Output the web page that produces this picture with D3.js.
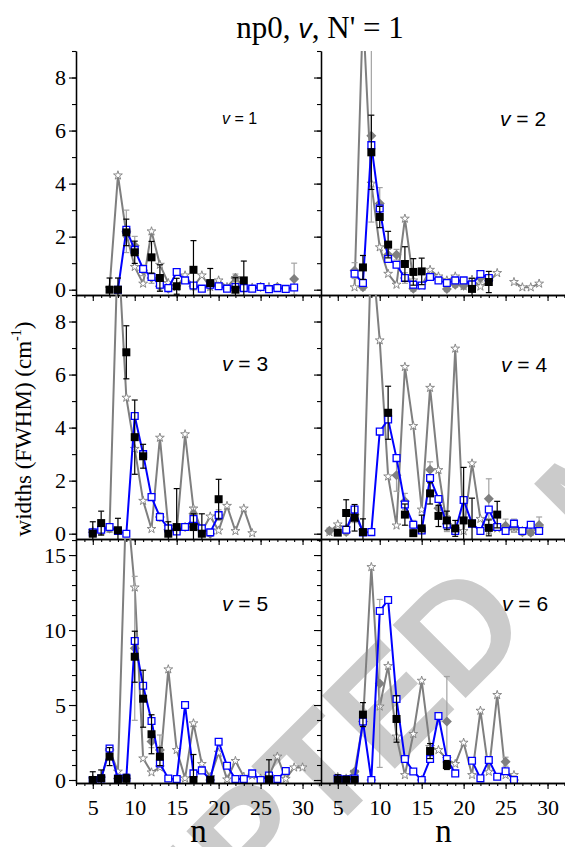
<!DOCTYPE html>
<html>
<head>
<meta charset="utf-8">
<script src="https://cdn.jsdelivr.net/npm/d3@7"></script>
<style>
  body { margin: 0; background: #fff; }
  svg { display: block; }
</style>
</head>
<body>
<svg id="chart" width="565" height="847"></svg>
<script>
// ---- data (one inner array per panel, v = 1..6) ----
const panelLabels = ["1", "2", "3", "4", "5", "6"];
const xTicksMajor = [5, 10, 15, 20, 25, 30];
const yTicksSmall = [0, 2, 4, 6, 8];
const yTicksLarge = [0, 5, 10, 15];

// black filled squares with error bars
const blackN = [
  [7, 8, 9, 10, 12, 13, 15, 17, 19, 22, 23],
  [8, 9, 10, 11, 13, 14, 15, 21, 23],
  [5, 6, 8, 9, 10, 11, 14, 15, 17, 18, 20],
  [5, 6, 7, 8, 11, 13, 14, 15, 16, 17, 18, 19, 20, 21, 23, 24],
  [5, 6, 7, 8, 9, 10, 11, 12, 13, 17, 19, 26],
  [5, 6, 7, 8, 12, 16, 18]
];
const blackW = [
  [0, 0, 2.16, 1.41, 1.22, 0.44, 0.13, 0.75, 0.25, 0, 0.35],
  [0.84, 5.18, 2.74, 1.7, 0.97, 0.67, 0.69, 0.03, 0.29],
  [0, 0.4, 0.13, 6.84, 3.64, 2.92, 0, 0.25, 0.25, 0, 1.3],
  [0.04, 0.78, 0.6, 0.06, 4.56, 0.72, 0.02, 0.2, 1.52, 0.67, 0.5, 0.2, 0.5, 0.39, 0.22, 0.72],
  [0, 0.12, 1.56, 0.07, 0.08, 8.22, 5.42, 3.05, 1.56, 0, 0.02, 0.05],
  [0, 0, 0, 4.36, 4.07, 1.93, 1.0]
];
const blackErr = [
  [0.44, 0.44, 0.5, 0.42, 0.6, 0.5, 0.3, 1.1, 0.55, 0.45, 0.73],
  [0.45, 1.4, 0.4, 0.5, 0.65, 0.5, 0.5, 0.4, 0.4],
  [0.45, 0.45, 0.45, 1.0, 1.4, 0.45, 0.45, 1.45, 0.5, 0.75, 0.75],
  [0.1, 0.5, 0.5, 0.5, 1.0, 0.4, 0.1, 0.5, 0.4, 0.4, 0.35, 0.3, 2.0, 0.95, 0.3, 0.5],
  [0.55, 0.55, 0.6, 0.2, 0.3, 1.7, 1.9, 1.3, 0.6, 1.7, 0.2, 1.3],
  [0.35, 0.25, 0.1, 0.8, 1.55, 0.5, 0.3]
];

// blue open squares (line), first n of each panel and consecutive values
const blueStart = [8, 7, 5, 6, 5, 5];
const blueW = [
  [0, 2.26, 1.5, 0.78, 0.48, 0.19, 0.06, 0.67, 0.35, 0.16, 0.04, 0.19, 0.13, 0.04, 0.1, 0.06, 0.04, 0.1, 0.02, 0.06, 0.03, 0.08],
  [0.6, 0.25, 5.45, 3.06, 1.16, 0.94, 0.44, 0.19, 0.16, 0.48, 0.35, 0.25, 0.35, 0.35, 0.2, 0.59, 0.44],
  [0.05, 0.15, 0.25, 0.1, 0, 4.44, 3.0, 1.38, 0.63, 0.2, 0.08, 0.25, 0.55, 0.2, 0.05, 0.7],
  [0.15, 0.91, 0.05, 0.06, 3.85, 4.31, 2.85, 1.1, 0.34, 0.12, 2.1, 1.31, 0.35, 0.1, 1.27, 0.38, 0.1, 0.91, 0.25, 0.1, 0.38, 0.1, 0.34, 0.1],
  [0, 0.1, 2.1, 0.1, 0.15, 9.27, 6.29, 3.93, 1.1, 0.1, 0.07, 5.0, 0.44, 0.64, 0, 2.55, 0.95, 0.07, 0.07, 0.44, 0, 0.3, 0.07, 0.6],
  [0.1, 0.05, 0.1, 3.9, 0, 11.27, 12.0, 5.4, 1.4, 0.57, 0, 1.4, 4.27, 1.4, 0.44, null, 1.28, 0.11, 1.33, 0.22, 0.58, 0]
];

// grey open stars (line)
const starStart = [7, 7, 5, 4, 5, 5];
const starW = [
  [0.05, 4.31, 2.1, 0.86, 0.23, 2.2, 0.94, 0.25, 0.1, 0.54, 0.12, 0.54, 0.1, 0.35, 0.1, 0.44, 0.1, 0.08, 0.1, 0.1, 0.1],
  [0.09, 10.5, 4.0, 1.6, 0.6, 0.19, 2.68, 0.35, 0.15, 0.75, 0.5, 0.35, 0.5, 0.13, 0.38, 0.12, 0.3, 0.63, null, 0.29, 0.09, 0.09, 0.23],
  [0.1, 0.1, 0.2, 11, 5.13, 3.2, 1.24, 0.18, 3.62, 0.25, 0.1, 3.75, 0.95, 0.1, 0.65, 0.12, 1.05, 0.1, 0.95, 0.02],
  [0.06, 0.35, 0.2, 0.7, 0.1, 11, 7.29, 2.16, 0.31, 6.29, 4.06, 0.91, 5.5, 2.4, 0.31, 6.98, 0.1, 2.65, 0.56, 0.1, 0.2, 0.1, 0.2, 0.1, 0.1, 0.2],
  [0.05, 0.1, 2.0, 0.56, 19, 12.84, 1.44, 0.51, 0.84, 7.38, 2.0, 0.11, 3.78, 1.07, 0.2, 1.82, 0.04, 1.27, 0.22, 0.3, 0.1, 0.25, 1.56, 0.08, 0.84, 0.84],
  [0.2, 0.1, 0.55, 3.8, 14.2, 4.9, 7.6, 2.9, 0.33, 3.07, 6.62, 2.2, 2.0, 1.4, 1.07, 2.49, 0.33, 4.62, 0.55, 5.67, 0.33, 0.33]
];

// grey filled diamonds with error bars
const diaN = [
  [9, 10, 11, 12, 13, 14, 17, 19, 22, 23, 25, 27, 29],
  [7, 8, 9, 10, 11, 12, 13, 14, 18, 19, 20, 22],
  [5, 6, 7, 13, 14, 16, 17, 19, 20],
  [4, 6, 7, 12, 13, 14, 16, 17, 18, 23, 25, 26, 27, 28, 29],
  [7, 8, 9, 10, 12, 13, 15, 19],
  [7, 8, 9, 10, 15, 18, 25, 26]
];
const diaW = [
  [2.2, 1.66, 0.73, 0.44, 0.13, 0.04, 0.12, 0.13, 0.44, 0.1, 0.1, 0.1, 0.4],
  [0.72, 0.09, 5.8, 3.25, 1.32, 1.32, 0.44, 0.04, 0.03, 0.19, 0.15, 0.44],
  [0.05, 0.1, 0.2, 0.63, 0.15, 0.25, 0.75, 0, 0.7],
  [0.11, 0.06, 0.72, 2.2, 1.22, 0.3, 2.41, 0.96, 0.38, 1.32, 0.3, 0.3, 0.05, 0.04, 0.33],
  [2.0, 0.1, 0.1, 8.78, 2.56, 2.0, 0, 0],
  [0.55, 3.9, 0, 6.44, 0, 3.9, 1.22, 0]
];
const diaErr = [
  [0.8, 0.35, 0.2, 0.2, 0.15, 0.1, 0.1, 0.1, 0.15, 0.1, 0.1, 0.1, 0.6],
  [0.3, 0.1, 3.25, 0.6, 0.2, 0.2, 0.2, 0.1, 0.1, 0.1, 0.1, 0.15],
  [0.1, 0.15, 0.15, 0.15, 0.1, 0.1, 0.25, 0.1, 0.2],
  [0.1, 0.1, 0.3, 0.6, 0.3, 0.2, 0.3, 0.3, 0.3, 0.75, 0.25, 0.25, 0.1, 0.1, 0.3],
  [0.3, 0.1, 0.1, 4.8, 0.4, 1.0, 0.1, 0.1],
  [0.1, 0.2, 0.1, 5.6, 0.1, 3.0, 0.3, 0.1]
];

// ---- layout ----
const serif = "'Liberation Serif', 'Times New Roman', serif";
const sans = "'Liberation Sans', Arial, sans-serif";
const panelW = 245, panelH = 244, plotLeft = 76, plotTop = 51;
const xDomain = [3, 32.2];
const labelPos = [[222, 124, 16], [500, 126, 21], [222, 371, 21], [501, 372, 21], [222, 611, 21], [502, 611, 21]];

const svg = d3.select("#chart");

// watermark, letter "D" centred on its spot in the page
const wm = svg.append("g");
const wmText = wm.append("text")
    .attr("font-family", sans)
    .attr("font-weight", "bold")
    .attr("font-size", 150)
    .attr("fill", "#cbcbcb");
wmText.append("tspan").text("ACCEPTED");
wmText.append("tspan").attr("dx", 50).text(" MANUSCRIPT");
const ext = wmText.node().getExtentOfChar(7);
wm.attr("transform", `translate(460,630) rotate(-45) translate(${-(ext.x + ext.width / 2)},${-(ext.y + ext.height / 2)})`);

const defs = svg.append("defs");
const squareSym = d3.symbol().type(d3.symbolSquare);
const starSym = d3.symbol().type(d3.symbolStar).size(24);

panelLabels.forEach((lab, i) => {
    const col = i % 2, row = Math.floor(i / 2);
    const x0 = plotLeft + col * panelW, y0 = plotTop + row * panelH;
    const big = row === 2;

    const x = d3.scaleLinear().domain(xDomain).range([x0, x0 + panelW]);
    const y = d3.scaleLinear().domain(big ? [-0.2, 16.07] : [-0.2, 9.0]).range([y0 + panelH, y0]);

    defs.append("clipPath").attr("id", "clip" + i)
        .append("rect").attr("x", x0).attr("y", y0).attr("width", panelW).attr("height", panelH);
    const g = svg.append("g").attr("clip-path", `url(#clip${i})`);

    // grey stars
    const stars = starW[i].map((w, k) => ({ n: starStart[i] + k, w }));
    const line = d3.line().defined(d => d.w != null).x(d => x(d.n)).y(d => y(d.w));
    g.append("path").attr("d", line(stars))
        .attr("fill", "none").attr("stroke", "#7f7f7f").attr("stroke-width", 2);
    g.selectAll(".star").data(stars.filter(d => d.w != null)).enter()
        .append("path")
        .attr("transform", d => `translate(${x(d.n)},${y(d.w)})`)
        .attr("d", starSym)
        .attr("fill", "#fff").attr("stroke", "#7f7f7f").attr("stroke-width", 0.9);

    // grey diamonds
    const dia = diaN[i].map((n, k) => ({ n, w: diaW[i][k], e: diaErr[i][k] }));
    drawErr(g, dia, x, y, "#a3a3a3");
    g.selectAll(".dia").data(dia).enter()
        .append("path")
        .attr("transform", d => `translate(${x(d.n)},${y(d.w)}) rotate(45)`)
        .attr("d", squareSym.size(50))
        .attr("fill", "#808080");

    // blue squares
    const blue = blueW[i].map((w, k) => ({ n: blueStart[i] + k, w }));
    g.append("path").attr("d", line(blue))
        .attr("fill", "none").attr("stroke", "#0000ff").attr("stroke-width", 2);
    g.selectAll(".blue").data(blue.filter(d => d.w != null)).enter()
        .append("path")
        .attr("transform", d => `translate(${x(d.n)},${y(d.w)})`)
        .attr("d", squareSym.size(46))
        .attr("fill", "#fff").attr("stroke", "#0000ff").attr("stroke-width", 1.3);

    // black squares
    const blk = blackN[i].map((n, k) => ({ n, w: blackW[i][k], e: blackErr[i][k] }));
    drawErr(g, blk, x, y, "#000");
    g.selectAll(".blk").data(blk).enter()
        .append("path")
        .attr("transform", d => `translate(${x(d.n)},${y(d.w)})`)
        .attr("d", squareSym.size(64))
        .attr("fill", "#000");

    // axes
    const yMinor = d3.range(0, big ? 17 : 10);
    svg.append("g").attr("transform", `translate(${x0},0)`)
        .call(d3.axisLeft(y).tickValues(yMinor).tickSize(4).tickSizeOuter(0).tickFormat(""))
        .call(styleAxis);
    svg.append("g").attr("transform", `translate(${x0},0)`)
        .call(d3.axisLeft(y).tickValues(big ? yTicksLarge : yTicksSmall).tickSize(7).tickSizeOuter(0)
            .tickPadding(3).tickFormat(col === 0 ? d3.format("d") : ""))
        .call(styleAxis);

    svg.append("g").attr("transform", `translate(0,${y0 + panelH})`)
        .call(d3.axisBottom(x).tickValues(d3.range(3, 33)).tickSize(3).tickSizeOuter(0).tickFormat(""))
        .call(styleAxis);
    svg.append("g").attr("transform", `translate(0,${y0 + panelH})`)
        .call(d3.axisBottom(x).tickValues(xTicksMajor).tickSize(6).tickSizeOuter(0)
            .tickPadding(10).tickFormat(big ? d3.format("d") : ""))
        .call(styleAxis);

    // panel label
    const p = labelPos[i];
    const t = svg.append("text").attr("x", p[0]).attr("y", p[1])
        .attr("font-family", sans).attr("font-size", p[2]).attr("fill", "#000");
    t.append("tspan").attr("font-style", "italic").text("v");
    t.append("tspan").text(" = " + lab);
});

function drawErr(g, data, x, y, color) {
    const cap = 3;
    const eb = g.selectAll(null).data(data).enter().append("g")
        .attr("stroke", color).attr("stroke-width", 1.2);
    eb.append("line")
        .attr("x1", d => x(d.n)).attr("x2", d => x(d.n))
        .attr("y1", d => y(d.w - d.e)).attr("y2", d => y(d.w + d.e));
    eb.append("line")
        .attr("x1", d => x(d.n) - cap).attr("x2", d => x(d.n) + cap)
        .attr("y1", d => y(d.w + d.e)).attr("y2", d => y(d.w + d.e));
    eb.append("line")
        .attr("x1", d => x(d.n) - cap).attr("x2", d => x(d.n) + cap)
        .attr("y1", d => y(d.w - d.e)).attr("y2", d => y(d.w - d.e));
}

function styleAxis(sel) {
    sel.attr("font-family", serif).attr("font-size", 22);
    sel.selectAll("path").attr("stroke", "#000").attr("stroke-width", 1.3);
    sel.selectAll("line").attr("stroke", "#000").attr("stroke-width", 1.1);
    sel.selectAll("text").attr("fill", "#000");
}

// title
const title = svg.append("text").attr("x", 320).attr("y", 38)
    .attr("text-anchor", "middle").attr("font-family", serif).attr("font-size", 31);
title.append("tspan").text("np0, ");
title.append("tspan").attr("font-family", sans).attr("font-style", "italic").attr("font-size", 27).text("v");
title.append("tspan").text(", N' = 1");

// y title
const yt = svg.append("text").attr("transform", "translate(31,429) rotate(-90)")
    .attr("text-anchor", "middle").attr("font-family", serif).attr("font-size", 23);
yt.append("tspan").text("widths (FWHM) (cm");
yt.append("tspan").attr("font-size", 14).attr("dy", -10).text("-1");
yt.append("tspan").attr("dy", 10).text(")");

// x titles
[0, 1].forEach(c => {
    svg.append("text").attr("x", plotLeft + c * panelW + panelW / 2).attr("y", 842)
        .attr("text-anchor", "middle").attr("font-family", serif).attr("font-size", 33).text("n");
});
</script>
</body>
</html>
